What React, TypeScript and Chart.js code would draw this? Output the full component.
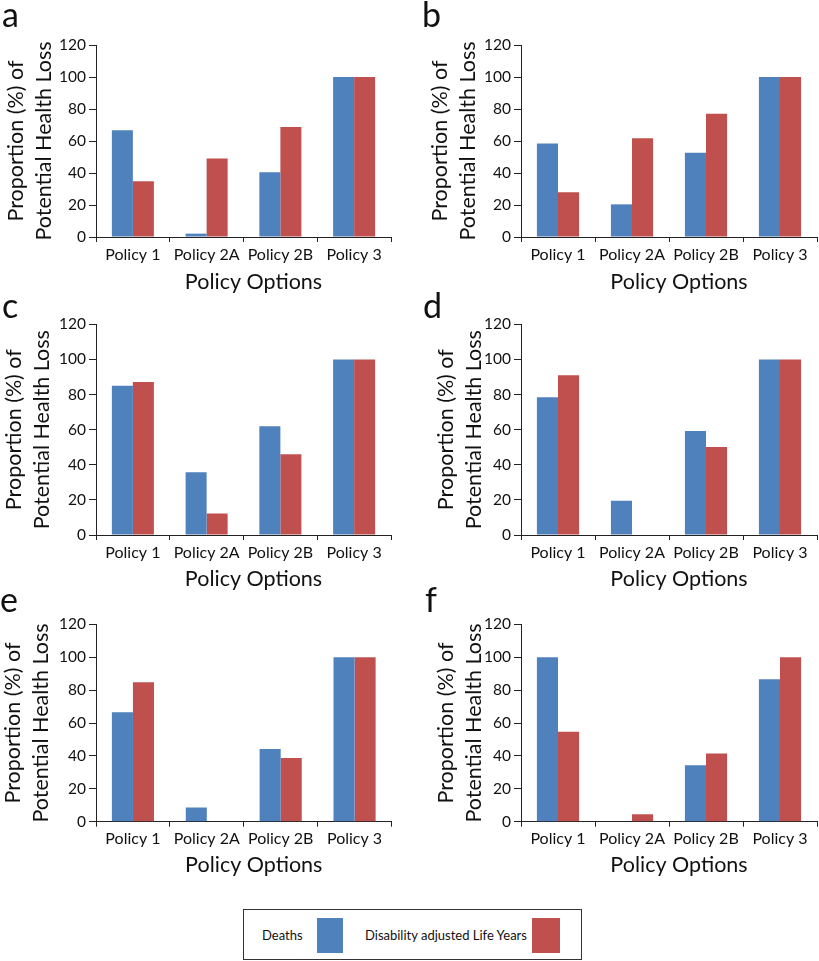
import React, { useEffect, useRef } from "react";
import { Chart, registerables } from "chart.js";

Chart.register(...registerables);

// ---------- data ----------
const categories = ["Policy 1", "Policy 2A", "Policy 2B", "Policy 3"];
const seriesNames = ["Deaths", "Disability adjusted Life Years"];
const yTitleLines = ["Proportion (%) of", "Potential Health Loss"];
const xTitle = "Policy Options";
const panelLetters = ["a", "b", "c", "d", "e", "f"];
const yMin = 0;
const yMax = 120;
const yStep = 20;

const deathsA = [66.7, 2.1, 40.4, 100];
const dalysA = [34.8, 49, 68.7, 100];
const deathsB = [58.5, 20.4, 52.7, 100];
const dalysB = [28, 61.7, 77, 100];
const deathsC = [85, 35.7, 62, 100];
const dalysC = [87.2, 12.3, 46, 100];
const deathsD = [78.4, 19.5, 59.2, 100];
const dalysD = [91, 0, 50.1, 100];
const deathsE = [66.5, 8.7, 44.2, 100];
const dalysE = [84.8, 0, 38.7, 100];
const deathsF = [100, 0, 34.3, 86.6];
const dalysF = [54.7, 4.5, 41.4, 100];

const deathsAll = [deathsA, deathsB, deathsC, deathsD, deathsE, deathsF];
const dalysAll = [dalysA, dalysB, dalysC, dalysD, dalysE, dalysF];

// ---------- style ----------
const BLUE = "#4F81BD";
const RED = "#C0504D";
const TEXT = "#111111";
const AXIS = "#222222";
const FONT = "Lato, 'DejaVu Sans', sans-serif";

type PanelLayout = {
  left: number; top: number; width: number; height: number;
  plotLeft: number; plotRight: number; plotTop: number; plotBottom: number;
  letterX: number; letterY: number;
  yTitleX: number; xTitleBase: number;
};

const layouts: PanelLayout[] = [
  { left: -6, top: 0, width: 416, height: 300, plotLeft: 96, plotRight: 391, plotTop: 45, plotBottom: 237, letterX: 2, letterY: 27, yTitleX: 22.7, xTitleBase: 288.5 },
  { left: 410, top: 0, width: 409, height: 300, plotLeft: 521, plotRight: 817, plotTop: 45, plotBottom: 237, letterX: 422, letterY: 27, yTitleX: 447, xTitleBase: 288.5 },
  { left: -6, top: 288, width: 416, height: 302, plotLeft: 96, plotRight: 391, plotTop: 324.3, plotBottom: 535, letterX: 2, letterY: 318, yTitleX: 21, xTitleBase: 586 },
  { left: 410, top: 288, width: 409, height: 302, plotLeft: 521, plotRight: 817, plotTop: 324.3, plotBottom: 535, letterX: 423, letterY: 318, yTitleX: 452.7, xTitleBase: 586 },
  { left: -6, top: 578, width: 416, height: 304, plotLeft: 96, plotRight: 391.5, plotTop: 624.3, plotBottom: 821.7, letterX: 0, letterY: 612, yTitleX: 20, xTitleBase: 872 },
  { left: 410, top: 578, width: 409, height: 304, plotLeft: 521, plotRight: 817, plotTop: 624.3, plotBottom: 821.7, letterX: 425, letterY: 612, yTitleX: 453, xTitleBase: 872 },
];

const panelTextPlugin = {
  id: "panelText",
  afterDraw(chart: any, _args: any, opts: any) {
    const { ctx, chartArea } = chart;
    ctx.save();
    ctx.fillStyle = TEXT;
    // panel letter
    ctx.font = `34px ${FONT}`;
    ctx.textAlign = "left";
    ctx.textBaseline = "alphabetic";
    ctx.fillText(opts.letter, opts.letterX, opts.letterY);
    // x title
    ctx.font = `21.5px ${FONT}`;
    ctx.textAlign = "center";
    ctx.fillText(xTitle, (chartArea.left + chartArea.right) / 2 + 10, opts.xTitleY);
    // y title (two rotated lines)
    const cy = (chartArea.top + chartArea.bottom) / 2;
    ctx.translate(opts.yTitleX, cy);
    ctx.rotate(-Math.PI / 2);
    ctx.fillText(yTitleLines[0], 0, 0);
    ctx.fillText(yTitleLines[1], 0, 28);
    ctx.restore();
  },
};

function Panel({ idx }: { idx: number }) {
  const ref = useRef<HTMLCanvasElement>(null);
  const L = layouts[idx];
  useEffect(() => {
    if (!ref.current) return;
    const chart = new Chart(ref.current, {
      type: "bar",
      data: {
        labels: categories,
        datasets: [
          { label: seriesNames[0], data: deathsAll[idx], backgroundColor: BLUE, borderWidth: 0, categoryPercentage: 0.57, barPercentage: 1.0 },
          { label: seriesNames[1], data: dalysAll[idx], backgroundColor: RED, borderWidth: 0, categoryPercentage: 0.57, barPercentage: 1.0 },
        ],
      },
      options: {
        responsive: false,
        animation: false,
        events: [],
        layout: {
          padding: {
            left: 0,
            top: L.plotTop - L.top,
            right: L.left + L.width - L.plotRight,
            bottom: 0,
          },
        },
        plugins: {
          legend: { display: false },
          tooltip: { enabled: false },
          title: { display: false },
          panelText: {
            letter: panelLetters[idx],
            letterX: L.letterX - L.left,
            letterY: L.letterY - L.top,
            yTitleX: L.yTitleX - L.left,
            xTitleY: L.xTitleBase - L.top,
          },
        } as any,
        scales: {
          x: {
            type: "category",
            offset: true,
            grid: { display: true, offset: true, drawOnChartArea: false, drawTicks: true, tickLength: 5, color: AXIS, lineWidth: 1 },
            border: { display: true, color: AXIS, width: 1 },
            ticks: { padding: 3, color: TEXT, font: { family: FONT, size: 16 }, maxRotation: 0, autoSkip: false },
            afterFit: (s: any) => { s.height = L.top + L.height - L.plotBottom; },
          },
          y: {
            min: yMin,
            max: yMax,
            grid: { display: true, drawOnChartArea: false, drawTicks: true, tickLength: 7, color: AXIS, lineWidth: 1 },
            border: { display: true, color: AXIS, width: 1 },
            ticks: { stepSize: yStep, padding: 3, color: TEXT, font: { family: FONT, size: 15.5 } },
            afterFit: (s: any) => { s.width = L.plotLeft - L.left; },
          },
        },
      },
      plugins: [panelTextPlugin],
    });
    return () => chart.destroy();
  }, [idx]);
  return (
    <canvas
      ref={ref}
      width={L.width}
      height={L.height}
      style={{ position: "absolute", left: L.left, top: L.top, width: L.width, height: L.height }}
    />
  );
}

function Legend() {
  const base: React.CSSProperties = { position: "absolute", fontFamily: FONT, fontSize: 13, color: TEXT, lineHeight: "16px", whiteSpace: "nowrap" };
  return (
    <div style={{ position: "absolute", left: 243, top: 909, width: 339, height: 51, boxSizing: "border-box", border: "1px solid #333", background: "#fff" }}>
      <div style={{ ...base, left: 18, top: 17 }}>{seriesNames[0]}</div>
      <div style={{ position: "absolute", left: 73, top: 8, width: 26, height: 35, background: BLUE }} />
      <div style={{ ...base, left: 121, top: 17 }}>{seriesNames[1]}</div>
      <div style={{ position: "absolute", left: 288, top: 8, width: 28, height: 35, background: RED }} />
    </div>
  );
}

export default function App() {
  return (
    <div style={{ position: "absolute", left: 0, top: 0, width: 819, height: 961, background: "#fff", overflow: "hidden" }}>
      {layouts.map((_, i) => (
        <Panel key={i} idx={i} />
      ))}
      <Legend />
    </div>
  );
}
